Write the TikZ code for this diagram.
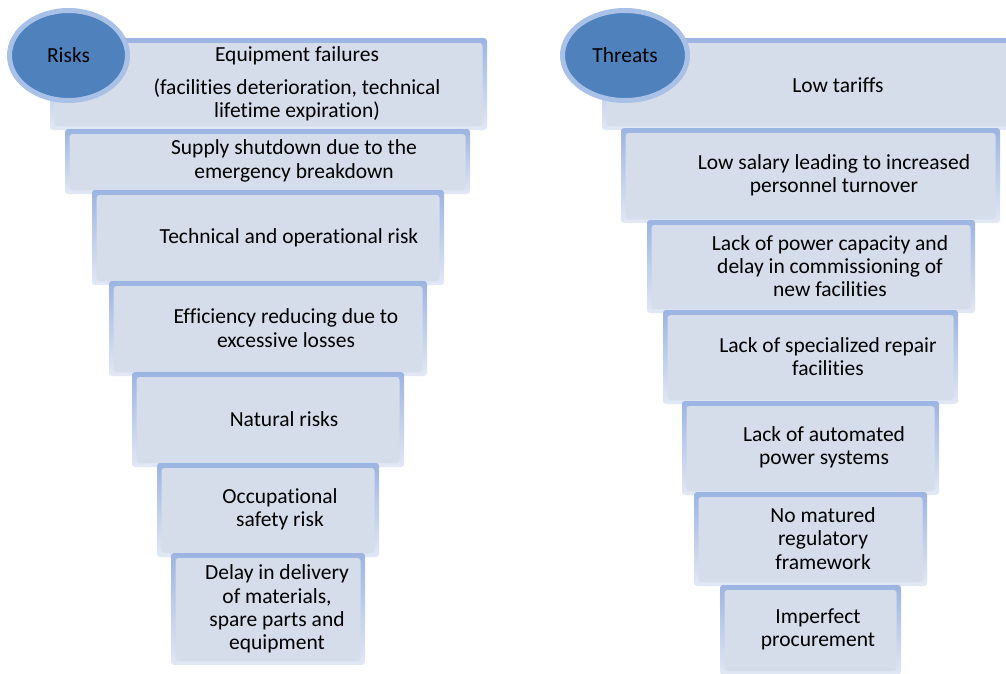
\documentclass[tikz,border=0pt]{standalone}
\usepackage{fontspec}
\setmainfont[Ligatures=NoCommon]{Carlito}
\usetikzlibrary{shapes.geometric}
\definecolor{barfill}{HTML}{D5DCEA}
\definecolor{bartop}{HTML}{9CB4E2}
\definecolor{barbot}{HTML}{E2E8F4}
\definecolor{ovalfill}{HTML}{4F81BD}
\definecolor{ovalring}{HTML}{A9C0E7}
\begin{document}
\begin{tikzpicture}[
  x=1pt, y=-1pt,
  % Node styles
  bar/.style={rectangle, rounded corners=3pt, top color=bartop, bottom color=barbot,
    draw=none, inner sep=0pt,
    path picture={\fill[barfill] ([shift={(4.5pt,-5pt)}]path picture bounding box.north west)
      rectangle ([shift={(-4.5pt,4pt)}]path picture bounding box.south east);}},
  lbl/.style={align=center, font=\fontsize{21.5}{23.3}\selectfont, text=black, inner sep=0pt},
  oval/.style={ellipse, fill=ovalfill, draw=ovalring, line width=5pt, inner sep=0pt,
    font=\fontsize{21.5}{23.3}\selectfont, text=black},
]
\useasboundingbox (0,0) rectangle (1006,673);
\clip (0,0) rectangle (1006,673);

% === Left funnel: risks ===
\node[bar, minimum width=437pt, minimum height=92pt] (r1) at (268.5, 84) {};
\node[lbl] (r1t) at (297, 84) {Equipment failures\\[9pt](facilities deterioration, technical\\lifetime expiration)};
\node[bar, minimum width=405pt, minimum height=65pt] (r2) at (267.5, 161.5) {};
\node[lbl] (r2t) at (294, 161) {Supply shutdown due to the\\emergency breakdown};
\node[bar, minimum width=352pt, minimum height=95pt] (r3) at (268, 237.5) {};
\node[lbl] (r3t) at (289, 238) {Technical and operational risk};
\node[bar, minimum width=318pt, minimum height=95pt] (r4) at (268, 328.5) {};
\node[lbl] (r4t) at (286, 328) {Efficiency reducing due to\\excessive losses};
\node[bar, minimum width=272pt, minimum height=95pt] (r5) at (268, 419.5) {};
\node[lbl] (r5t) at (284, 419) {Natural risks};
\node[bar, minimum width=222pt, minimum height=94pt] (r6) at (268, 510) {};
\node[lbl] (r6t) at (280, 509) {Occupational\\safety risk};
\node[bar, minimum width=194pt, minimum height=112pt] (r7) at (268, 609) {};
\node[lbl] (r7t) at (277, 609) {Delay in delivery\\of materials,\\spare parts and\\equipment};

\node[oval, minimum width=118pt, minimum height=90pt] (risks) at (68.5, 55.5) {Risks};

% === Right funnel: threats ===
\node[bar, minimum width=424pt, minimum height=92pt] (t1) at (814, 84) {};
\node[lbl] (t1t) at (838, 85) {Low tariffs};
\node[bar, minimum width=379pt, minimum height=95pt] (t2) at (810.5, 175.5) {};
\node[lbl] (t2t) at (834, 175) {Low salary leading to increased\\personnel turnover};
\node[bar, minimum width=328pt, minimum height=93pt] (t3) at (811, 266.5) {};
\node[lbl] (t3t) at (830, 266) {Lack of power capacity and\\delay in commissioning of\\new facilities};
\node[bar, minimum width=295pt, minimum height=94pt] (t4) at (810.5, 357) {};
\node[lbl] (t4t) at (828, 356.5) {Lack of specialized repair\\facilities};
\node[bar, minimum width=257pt, minimum height=94pt] (t5) at (810.5, 448) {};
\node[lbl] (t5t) at (824, 447.5) {Lack of automated\\power systems};
\node[bar, minimum width=233pt, minimum height=94pt] (t6) at (810.5, 539) {};
\node[lbl] (t6t) at (823, 538.5) {No matured\\regulatory\\framework};
\node[bar, minimum width=181pt, minimum height=90pt] (t7) at (810.5, 630) {};
\node[lbl] (t7t) at (818, 629) {Imperfect\\procurement};

\node[oval, minimum width=125pt, minimum height=90pt] (threats) at (625, 55.5) {Threats};

\end{tikzpicture}
\end{document}
